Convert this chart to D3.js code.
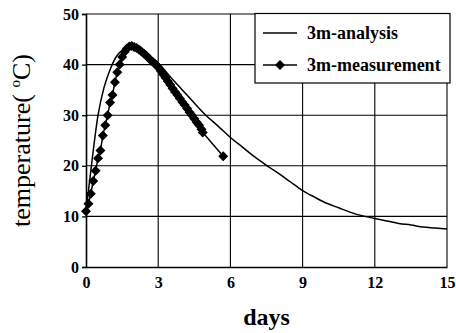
<!DOCTYPE html>
<html>
<head>
<meta charset="utf-8">
<script src="https://cdn.jsdelivr.net/npm/d3@7"></script>
<style>
  html, body { margin: 0; padding: 0; background: #fff; }
  svg { display: block; }
</style>
</head>
<body>
<svg id="chart" width="456" height="333"></svg>
<script>
// ---- data ----
const xTicks = [0, 3, 6, 9, 12, 15];
const yTicks = [0, 10, 20, 30, 40, 50];

const analysisDays = [0, 0.1, 0.25, 0.5, 0.75, 1.0, 1.25, 1.5, 1.75, 2.0, 2.25, 2.5, 3.0, 3.5, 4.0, 4.5, 5.0, 5.5, 6.0, 6.5, 7.0, 7.5, 8.0, 8.5, 9.0, 9.5, 10.0, 10.5, 11.0, 11.5, 12.0, 12.5, 13.0, 13.5, 14.0, 14.5, 15.0];
const analysisTemp = [11, 15, 21, 30, 35.5, 39, 41.5, 42.8, 43.3, 43.4, 43, 42.2, 40.3, 37.6, 35, 32.4, 29.9, 27.8, 25.6, 23.7, 21.8, 20.1, 18.5, 16.8, 15.1, 13.8, 12.6, 11.7, 10.8, 10.1, 9.6, 9.1, 8.6, 8.3, 7.9, 7.7, 7.5];

const measDays = [0, 0.1, 0.2, 0.3, 0.4, 0.5, 0.6, 0.7, 0.8, 0.9, 1.0, 1.1, 1.2, 1.3, 1.4, 1.5, 1.6, 1.7, 1.8, 1.9, 2.0, 2.1, 2.2, 2.3, 2.4, 2.5, 2.6, 2.7, 2.8, 2.9, 3.0, 3.1, 3.2, 3.3, 3.4, 3.5, 3.6, 3.7, 3.8, 3.9, 4.0, 4.1, 4.2, 4.3, 4.4, 4.5, 4.6, 4.7, 4.8, 4.85, 5.7];
const measTemp = [11, 12.5, 14.5, 17, 19, 21.5, 23, 26, 28, 30, 32.5, 34, 36.5, 38.5, 40, 41.5, 42.5, 43.2, 43.6, 43.7, 43.5, 43.3, 43.0, 42.6, 42.2, 41.8, 41.3, 40.8, 40.4, 40.0, 39.5, 38.8, 38.1, 37.4, 36.7, 36.0, 35.3, 34.6, 34.0, 33.3, 32.6, 32.0, 31.3, 30.6, 30.0, 29.3, 28.6, 28.0, 27.2, 26.6, 21.9];

const seriesNames = ["3m-analysis", "3m-measurement"];
const xTitle = "days";

// ---- drawing ----
const FONT = "'Liberation Serif', 'DejaVu Serif', 'Times New Roman', Times, serif";
const svg = d3.select("#chart");
const x = d3.scaleLinear().domain([0, 15]).range([86, 447]);
const y = d3.scaleLinear().domain([0, 50]).range([267, 14]);

// grid
svg.append("g").selectAll("line").data(xTicks.filter(d => d > 0)).join("line")
  .attr("x1", d => x(d)).attr("x2", d => x(d))
  .attr("y1", y(0)).attr("y2", y(50))
  .attr("stroke", "#000").attr("stroke-width", 1.1);
svg.append("g").selectAll("line").data(yTicks.filter(d => d > 0)).join("line")
  .attr("x1", x(0)).attr("x2", x(15))
  .attr("y1", d => y(d)).attr("y2", d => y(d))
  .attr("stroke", "#000").attr("stroke-width", 1.1);

// axes
const yAxis = d3.axisLeft(y).tickValues(yTicks).tickSize(4).tickPadding(3);
const gy = svg.append("g").attr("transform", `translate(${x(0)},0)`).call(yAxis)
  .attr("font-family", FONT).attr("font-size", 16).attr("font-weight", "bold");
gy.select(".domain").attr("stroke-width", 1.6);
gy.selectAll(".tick line").attr("stroke-width", 1.3);

const xAxis = d3.axisBottom(x).tickValues(xTicks).tickSize(0).tickPadding(10);
const gx = svg.append("g").attr("transform", `translate(0,${y(0)})`).call(xAxis)
  .attr("font-family", FONT).attr("font-size", 16).attr("font-weight", "bold");
gx.select(".domain").attr("stroke-width", 1.6);

// analysis line
const analysis = analysisDays.map((d, i) => [d, analysisTemp[i]]);
svg.append("path").datum(analysis)
  .attr("fill", "none").attr("stroke", "#000").attr("stroke-width", 1.5)
  .attr("d", d3.line().x(d => x(d[0])).y(d => y(d[1])).curve(d3.curveMonotoneX));

// measurement line + diamonds
const meas = measDays.map((d, i) => [d, measTemp[i]]);
svg.append("path").datum(meas)
  .attr("fill", "none").attr("stroke", "#000").attr("stroke-width", 1.5)
  .attr("d", d3.line().x(d => x(d[0])).y(d => y(d[1])));
const diamond = d3.symbol().type(d3.symbolSquare).size(50);
svg.append("g").selectAll("path").data(meas).join("path")
  .attr("d", diamond)
  .attr("transform", d => `translate(${x(d[0])},${y(d[1])}) rotate(45)`)
  .attr("fill", "#000");

// legend
const lg = svg.append("g");
lg.append("rect").attr("x", 255).attr("y", 13.5).attr("width", 195).attr("height", 69.5)
  .attr("fill", "#fff").attr("stroke", "#000").attr("stroke-width", 1.2);
const rows = [33, 65];
seriesNames.forEach((name, i) => {
  lg.append("line").attr("x1", 263).attr("x2", 297).attr("y1", rows[i]).attr("y2", rows[i])
    .attr("stroke", "#000").attr("stroke-width", 1.5);
  if (i === 1) {
    lg.append("path").attr("d", diamond).attr("transform", `translate(280,${rows[i]}) rotate(45)`).attr("fill", "#000");
  }
  lg.append("text").attr("x", 307).attr("y", rows[i] + 6)
    .attr("font-family", FONT).attr("font-size", 18).attr("font-weight", "bold").text(name);
});

// axis titles
svg.append("text").attr("x", (x(0) + x(15)) / 2).attr("y", 325)
  .attr("text-anchor", "middle").attr("font-family", FONT)
  .attr("font-size", 24).attr("font-weight", "bold").text(xTitle);

const yt = svg.append("text").attr("transform", `translate(30,${(y(0) + y(50)) / 2}) rotate(-90)`)
  .attr("text-anchor", "middle").attr("font-family", FONT).attr("font-size", 26);
yt.append("tspan").text("temperature( ");
yt.append("tspan").attr("dy", -10).attr("font-size", 15).text("o");
yt.append("tspan").attr("dy", 10).text("C)");
</script>
</body>
</html>
